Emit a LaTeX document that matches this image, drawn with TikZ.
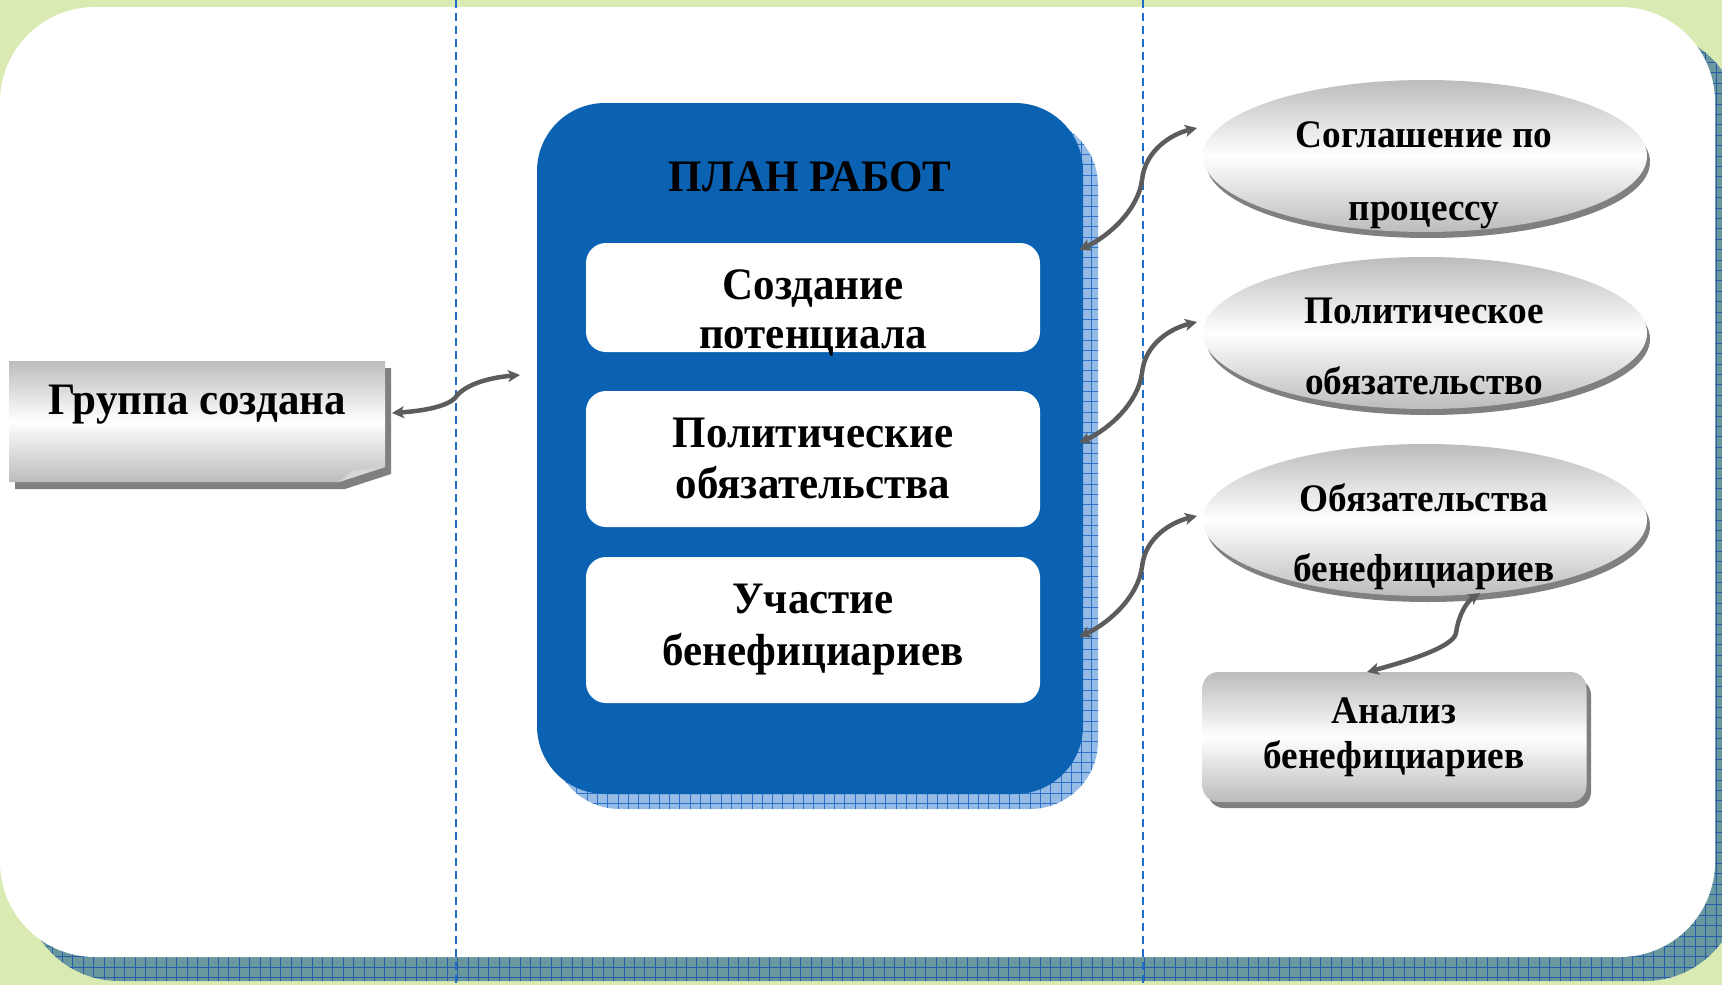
\documentclass[tikz,border=0pt]{standalone}
\usepackage{fontspec}
\setmainfont{Liberation Serif}[FakeStretch=0.955]
\usetikzlibrary{shapes.geometric,arrows.meta}
\definecolor{bggreen}{RGB}{217,234,179}
\definecolor{frameshadow}{RGB}{104,152,158}
\definecolor{framegrid}{RGB}{40,92,168}
\definecolor{panelblue}{RGB}{11,98,178}
\definecolor{panelshadow}{RGB}{150,188,230}
\definecolor{panelgrid}{RGB}{45,115,205}
\definecolor{dashblue}{RGB}{30,110,200}
\definecolor{arrowgray}{RGB}{92,92,92}
\definecolor{shadowgray}{RGB}{128,128,128}
\definecolor{shadegray}{RGB}{188,188,188}
\definecolor{foldgray}{RGB}{215,215,215}
\begin{document}
\begin{tikzpicture}[x=1pt,y=-1pt,
  tip/.tip={Stealth[length=12pt,width=12pt,inset=3pt]},
  conn/.style={arrowgray, line width=4.5pt, tip-tip},
  dashline/.style={dashblue, line width=2pt, dash pattern=on 8pt off 5pt},
  txtbig/.style={inner sep=0pt, anchor=base, font=\fontsize{45pt}{45pt}\selectfont\bfseries},
  txtmid/.style={inner sep=0pt, anchor=base, font=\fontsize{39pt}{39pt}\selectfont\bfseries},
  innerbox/.style={fill=white, rounded corners=20pt, minimum width=454pt, inner sep=0pt},
  ell/.style={ellipse, minimum width=444pt, minimum height=152pt, inner sep=0pt,
    top color=shadegray, bottom color=shadegray, middle color=white},
]
\useasboundingbox (0,0) rectangle (1722,985);
\fill[bggreen] (0,0) rectangle (1722,985);
% frame shadow
\begin{scope}
  \clip[rounded corners=95pt] (24,31) rectangle (1740,981);
  \fill[frameshadow] (0,0) rectangle (1745,990);
  \draw[framegrid, line width=0.9pt, step=10.4pt] (0,990) grid (1745,0);
\end{scope}
\fill[white, rounded corners=95pt] (0,7) rectangle (1715,957);
% dashed separators
\draw[dashline] (456,0) -- (456,985);
\draw[dashline] (1143,0) -- (1143,985);

% group box
\fill[shadowgray] (15,368) -- (391,368) -- (391,474) -- (345,489) -- (15,489) -- cycle;
\shade[top color=shadegray, bottom color=shadegray, middle color=white]
  (9,361) -- (385,361) -- (385,467) -- (339,482) -- (9,482) -- cycle;
\fill[foldgray] (339,482) -- (352,471) -- (385,467) -- cycle;
\node[txtbig] (grp) at (197,414) {Группа создана};

% panel shadow
\begin{scope}
  \clip[rounded corners=68pt] (552,118) rectangle (1098,809);
  \fill[panelshadow] (540,110) rectangle (1100,812);
  \draw[panelgrid, line width=0.8pt, step=10.3pt] (540,812) grid (1100,110);
\end{scope}
\node[fill=panelblue, rounded corners=68pt, minimum width=546pt, minimum height=691pt, inner sep=0pt] (panel) at (810,448.5) {};
\node[txtbig] (title) at (810,191) {ПЛАН РАБОТ};

\node[innerbox, minimum height=109pt] (ib1) at (813,297.5) {};
\node[innerbox, minimum height=136pt] (ib2) at (813,459) {};
\node[innerbox, minimum height=146pt] (ib3) at (813,630) {};
\node[txtbig] (ib1a) at (813,299) {Создание};
\node[txtbig] (ib1b) at (813,348) {потенциала};
\node[txtbig] (ib2a) at (813,447) {Политические};
\node[txtbig] (ib2b) at (813,498) {обязательства};
\node[txtbig] (ib3a) at (813,613) {Участие};
\node[txtbig] (ib3b) at (813,665) {бенефициариев};

% ellipses
\fill[shadowgray] (1428,162) ellipse [x radius=222pt, y radius=76pt];
\fill[shadowgray] (1428,339) ellipse [x radius=222pt, y radius=76pt];
\fill[shadowgray] (1428,526) ellipse [x radius=222pt, y radius=76pt];
\node[ell] (e1) at (1425,156) {};
\node[ell] (e2) at (1425,333) {};
\node[ell] (e3) at (1425,520) {};
\node[txtmid] (e1a) at (1424,147) {Соглашение по};
\node[txtmid] (e1b) at (1424,220) {процессу};
\node[txtmid] (e2a) at (1424,323) {Политическое};
\node[txtmid] (e2b) at (1424,394) {обязательство};
\node[txtmid] (e3a) at (1424,511) {Обязательства};
\node[txtmid] (e3b) at (1424,581) {бенефициариев};

% analysis box
\fill[shadowgray, rounded corners=16pt] (1208,679) rectangle (1591,808);
\node[rounded corners=16pt, minimum width=384pt, minimum height=130pt, inner sep=0pt,
  top color=shadegray, bottom color=shadegray, middle color=white] (an) at (1394.5,737) {};
\node[txtmid] (ana) at (1394,723) {Анализ};
\node[txtmid] (anb) at (1394,768) {бенефициариев};

% connector ends
\coordinate (a1) at (392,413);
\coordinate (a2) at (520,375);
\coordinate (b1s) at (1079,250);
\coordinate (b1e) at (1197,128);
\coordinate (b2s) at (1079,443);
\coordinate (b2e) at (1197,322);
\coordinate (b3s) at (1079,637);
\coordinate (b3e) at (1197,516);
\coordinate (c1) at (1480,593);
\coordinate (c2) at (1367,672);

\draw[conn] (a1) .. controls +(30,-2) and +(-9,9) .. ++(63,-15) .. controls +(8,-12) and +(-35,3) .. (a2);
\draw[conn] (b1s) .. controls +(30,-14) and +(-4,30) .. ++(63,-70) .. controls +(3,-30) and +(-25,6) .. (b1e);
\draw[conn] (b2s) .. controls +(30,-14) and +(-4,30) .. ++(63,-70) .. controls +(3,-30) and +(-25,6) .. (b2e);
\draw[conn] (b3s) .. controls +(30,-14) and +(-4,30) .. ++(63,-70) .. controls +(3,-30) and +(-25,6) .. (b3e);
\draw[conn] (c1) .. controls +(-15,10) and +(2,-15) .. ++(-24,40) .. controls +(-2,15) and +(30,-8) .. (c2);
\end{tikzpicture}
\end{document}
